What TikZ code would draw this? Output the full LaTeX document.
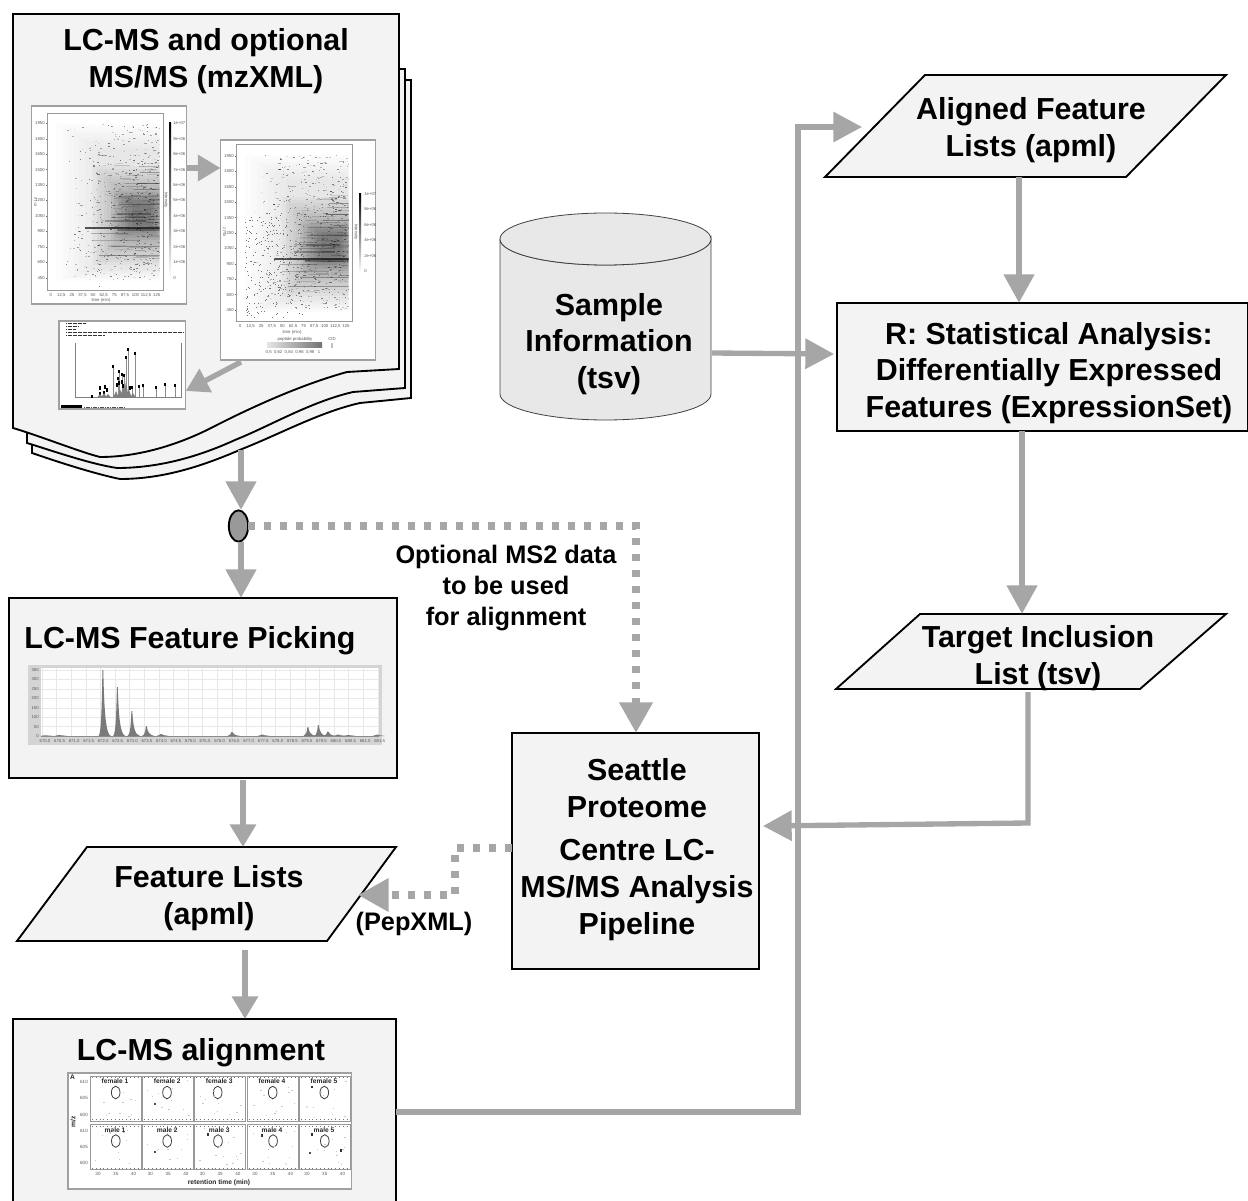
\documentclass[tikz,border=0pt]{standalone}
\usepackage{fontspec}
\setmainfont{Liberation Sans}
\usetikzlibrary{arrows.meta,shapes.geometric,calc}
\definecolor{boxfill}{HTML}{F3F3F3}
\definecolor{flow}{HTML}{A6A6A6}
\definecolor{frameg}{HTML}{A0A0A0}
\tikzset{
  shapebox/.style={draw=black,line width=1.4pt,fill=boxfill},
  boxnode/.style={rectangle,shapebox,inner sep=0pt,outer sep=0pt,anchor=north west},
  big/.style={font=\fontsize{22.8}{27.6}\selectfont\bfseries,align=center,text=black,inner sep=0pt},
  mid/.style={font=\fontsize{19}{23.25}\selectfont\bfseries,align=center,text=black,inner sep=0pt},
  flowline/.style={draw=flow,line width=5pt,-{Triangle[length=21.5pt,width=22pt]}},
  longflow/.style={draw=flow,line width=4pt,-{Triangle[length=21.5pt,width=22pt]}},
  dotline/.style={draw=flow,line width=5.4pt,dash pattern=on 5.4pt off 6.6pt,-{Triangle[length=23pt,width=24pt]}},
  thinflow/.style={draw=flow,line width=4pt,-{Triangle[length=17pt,width=19pt]}},
  imgbox/.style={draw=frameg,line width=.8pt,fill=white,outer sep=0pt,inner sep=0pt},
  tiny/.style={font=\fontsize{3.2}{3.6}\selectfont,text=black!65,inner sep=0pt},
  tinyb/.style={font=\fontsize{5}{5.4}\selectfont\bfseries,text=black!85,inner sep=0pt},
}
% heat map plot: left, top, width, height, number of specks, left-scatter count
\newcommand\heatplot[6]{%
  \begin{scope}[shift={(#1,#2)},x=#3*0.75pt,y=-#4*0.75pt]
    \draw[black!40,line width=.25pt] (0,0) rectangle (1,1);
    \begin{scope}
    \clip (.02,.02) rectangle (.97,.98);
    % soft haze built from nested layers
    \foreach \k in {0,...,7}{
      \fill[black,opacity=.012] ({.08+.05*\k},{.06+.02*\k}) rectangle (.97,{.95-.01*\k});}
    \foreach \k in {0,...,11}{
      \fill[black,opacity=.026] ({.4+.03*\k},{.3+.018*\k}) rectangle (.97,{.86-.018*\k});}
    \foreach \k in {0,...,6}{
      \fill[black,opacity=.035] ({.55+.03*\k},{.44+.012*\k}) rectangle ({.97-.012*\k},{.72-.014*\k});}
    % fine horizontal bands
    \foreach \b/\a/\c/\o/\t in {.645/.33/.97/.65/.009,.656/.6/.97/.3/.008,.47/.62/.97/.2/.006,.515/.62/.97/.28/.005,.565/.6/.9/.28/.012,.585/.55/.85/.22/.008,.605/.5/.85/.28/.012,.43/.75/.97/.28/.007,.395/.78/.97/.45/.006,.335/.8/.97/.3/.005,.3/.8/.95/.2/.004,.75/.55/.97/.3/.004,.8/.45/.97/.3/.005,.72/.4/.8/.2/.005,.68/.38/.7/.25/.004,.24/.45/.52/.25/.003}{
      \fill[black,opacity=\o] (\a,\b) rectangle (\c,\b+\t);}
    \foreach \i in {1,...,60}{
      \pgfmathsetmacro\pa{.5+.42*rnd}
      \pgfmathsetmacro\pb{.28+.55*rnd}
      \pgfmathsetmacro\po{.05+.15*rnd}
      \fill[black,opacity=\po] (\pa,\pb) rectangle ++(.05+.15*rnd,.0035);}
    \foreach \i in {1,...,#5}{
      \pgfmathsetmacro\px{.15+.82*pow(rnd,.6)}
      \pgfmathsetmacro\py{.06+.88*rnd}
      \pgfmathsetmacro\po{.08+.42*rnd}
      \fill[black,opacity=\po] (\px,\py) rectangle ++(.006+.014*rnd,.0035);}
    \foreach \i in {1,...,#6}{
      \pgfmathsetmacro\px{.08+.5*pow(rnd,1.3)}
      \pgfmathsetmacro\py{.38+.6*rnd}
      \fill[black!55] (\px,\py) rectangle ++(.007,.0045);}
    \end{scope}
  \end{scope}}
\begin{document}
\begin{tikzpicture}[x=0.75pt,y=-0.75pt,line join=miter]
\pgfmathsetseed{4217}
\useasboundingbox (0,0) rectangle (1248,1201);
\clip (0,0) rectangle (1248,1201);

% ---- stacked document
\draw[shapebox] (32,445) -- (32,80) -- (411,80) -- (411,398) -- (360,403)
  .. controls (320,412) and (280,434) .. (242,449) .. controls (205,465) and (165,479) .. (120,479)
  .. controls (95,474) and (55,461) .. (32,453) -- cycle;
\draw[shapebox] (27,436) -- (27,69) -- (405,69) -- (405,388) -- (353,392)
  .. controls (310,402) and (270,426) .. (235,440) .. controls (200,456) and (160,468) .. (117,468)
  .. controls (90,464) and (50,450) .. (27,443) -- cycle;
\draw[shapebox] (13,14) -- (399,14) -- (399,369) -- (347,372)
  .. controls (300,385) and (250,408) .. (213,427) .. controls (180,444) and (140,457) .. (100,457)
  .. controls (80,452) and (40,436) .. (13,428) -- cycle;
\node[big] (msTitle) at (206,43) {LC-MS and optional};
\node[big] (msTitleB) at (206,80) {MS/MS (mzXML)};
\coordinate (stackOut) at (241,450);

% first heat map
\node[rectangle,imgbox,minimum width=116pt,minimum height=148.5pt,anchor=north west] (mapA) at (31.5,106) {};
\heatplot{47}{113}{116}{177}{560}{0}
\foreach \v [count=\i from 0] in {1950,1800,1650,1500,1350,1200,1050,900,750,600,450}{
  \node[tiny,anchor=east] at (45,{123.3+\i*15.44}) {\v};
  \draw[black!60,line width=.2pt] (46,{123.3+\i*15.44}) -- (47,{123.3+\i*15.44});}
\foreach \v [count=\i from 0] in {0,{12,5},25,{37,5},50,{62,5},75,{87,5},100,{112,5},125}{
  \node[tiny,anchor=north] at ({50.7+\i*10.6},293) {\v};}
\node[tiny] at (101,300) {time (min)};
\node[tiny,rotate=90] at (35,202) {m / z};
\shade[top color=black,bottom color=white] (169,123) rectangle (171,278);
\foreach \v [count=\i from 0] in {1e+07,9e+06,8e+06,7e+06,6e+06,5e+06,4e+06,3e+06,2e+06,1e+06,0}{
  \node[tiny,anchor=west] at (173,{123.3+\i*15.44}) {\v};}
\node[tiny,rotate=-90] at (166,200) {Intensity};

% second heat map
\node[rectangle,imgbox,minimum width=116pt,minimum height=165pt,anchor=north west] (mapB) at (220.5,140) {};
\heatplot{236}{144}{116}{177}{560}{230}
\foreach \v [count=\i from 0] in {1950,1800,1650,1500,1350,1200,1050,900,750,600,450}{
  \node[tiny,anchor=east] at (234,{156+\i*15.4}) {\v};
  \draw[black!60,line width=.2pt] (235,{156+\i*15.4}) -- (236,{156+\i*15.4});}
\foreach \v [count=\i from 0] in {0,{12,5},25,{37,5},50,{62,5},75,{87,5},100,{112,5},125}{
  \node[tiny,anchor=north] at ({240+\i*10.6},324) {\v};}
\node[tiny] at (292,332) {time (min)};
\node[tiny,rotate=90] at (224,232) {m / z};
\shade[top color=black,bottom color=white] (359,194) rectangle (361,272);
\foreach \v [count=\i from 0] in {1e+07,8e+06,6e+06,4e+06,2e+06,0}{
  \node[tiny,anchor=west] at (364,{194+\i*15.5}) {\v};}
\node[tiny,rotate=-90] at (356,232) {Intensity};
\node[tiny] at (295,339) {peptide probability};
\node[tiny] at (332,339) {CID};
\shade[left color=black!10,right color=black!55] (267,343) rectangle (322,348);
\fill[black!25] (331,343) rectangle (333,348);
\node[tiny] at (293,352) {0,5\ \ 0,62\ \ 0,84\ \ 0,96\ \ 0,98\ \ \ 1};

% spectrum
\node[rectangle,imgbox,minimum width=95pt,minimum height=66pt,anchor=north west] (spec) at (59,321) {};
\foreach \yy/\xe in {323/86,326/78,329/76,332.5/184,335/105}{
  \draw[black!80,line width=.55pt,dash pattern=on .9pt off .35pt] (66,\yy) -- (\xe,\yy);}
\draw[black!50,line width=.3pt] (75,343) -- (75,397) -- (181,397) -- (181,343);
\foreach \x/\t in {92/397,100/394,104/393,113/367,118/379,119/372,122/375,124/376,126/358,128/350,135/354,132/388,139/387,143/386,156/388,165/385,175/386}{
  \draw[black!45,line width=.3pt] (\x,397) -- (\x,\t);
  \fill[black] (\x-.8,\t-1.6) rectangle (\x+.8,\t+.8);}
\foreach \x/\hh in {100/3,104/4,108/3,116/6,120/8,123/12,126/16,129/7,133/4}{
  \fill[black!50] (\x-2.5,397) -- (\x,397-\hh) -- (\x+2.5,397) -- cycle;}
\foreach \x/\t in {100/388,105/387,107/390,117/385,119/383,122/382,123/386,130/388}{
  \fill[black] (\x-1.2,\t-2) rectangle (\x+1.2,\t+2);}
\fill[black] (61,405.5) rectangle (82,408);
\draw[black!70,line width=.55pt,dash pattern=on .9pt off .4pt] (84,407) -- (124,407);

% arrows inside the document
\draw[thinflow] (mapA.east |- 0,168) -- (mapB.west |- 0,168);
\coordinate (mapOut) at (241,362);
\draw[thinflow] (mapOut) -- (spec.east |- 0,391);

% ---- branching junction
\node[ellipse,draw=black,line width=1.4pt,fill=black!40,minimum width=14.5pt,minimum height=23.5pt,inner sep=0pt,outer sep=0pt] (junction) at (238.5,526) {};
\draw[flowline] (stackOut) -- (241,510);

% ---- feature picking
\node[boxnode,minimum width=291pt,minimum height=135pt] (pick) at (9,598) {};
\node[big] (pickT) at (190,641) {LC-MS Feature Picking};
\fill[black!17] (28,665) rectangle (382,745);
\fill[white] (41,668) rectangle (379,736);
\foreach \x in {0,...,23}{\draw[black!9,line width=.2pt] ({42+\x*14.6},668) -- ({42+\x*14.6},736);}
\foreach \v [count=\i from 0] in {0,50,100,150,200,250,300,350}{
  \draw[black!9,line width=.2pt] (41,{736-\i*9.45}) -- (379,{736-\i*9.45});
  \node[tiny,anchor=east] at (39,{736-\i*9.45}) {\v};}
\foreach \v [count=\i from 0] in {670.0,670.5,671.0,671.5,672.0,672.5,673.0,673.5,674.0,674.5,675.0,675.5,676.0,676.5,677.0,677.5,678.0,678.5,679.0,679.5,680.0,680.5,681.0,681.5}{
  \node[tiny,anchor=center] at ({45+\i*14.55},741) {\v};}
\foreach \x/\hh in {103/66,117.5/49,132/25,146.5/10,161/2,232/4,262/1.5,308/9,318.5/11,328/4.5,338/1.5,348/1,377/1.5,59/1,45/.6}{
  \fill[black!52] (\x-4.5,736) .. controls (\x-2,735) and (\x-1.2,736-\hh*.4) .. (\x-.6,736-\hh) -- (\x+.3,736-\hh)
    .. controls (\x+1.2,736-\hh*.35) and (\x+3,735) .. (\x+8,736) -- cycle;}
\draw[black!45,line width=.3pt] (41,736) -- (379,736);

% ---- feature lists
\coordinate (flA) at (87,847); \coordinate (flB) at (396,847);
\coordinate (flC) at (327,941); \coordinate (flD) at (17,941);
\draw[shapebox] (flA) -- (flB) -- (flC) -- (flD) -- cycle;
\node[big] (flT) at (209,898) {Feature Lists\\(apml)};
\coordinate (flIn) at (243,847);
\coordinate (flOut) at (245,950);
\coordinate (flSide) at (358,895);
\draw[thinflow] ($(pick.south west)+(234,2)$) -- (flIn);

% ---- alignment
\node[boxnode,minimum width=287.25pt,minimum height=142pt] (align) at (13,1019) {};
\node[big] (alignT) at (201,1053) {LC-MS alignment};
\draw[thinflow] (flOut) -- (align.north -| flOut);
\node[rectangle,imgbox,line width=1.1pt,minimum width=212.5pt,minimum height=87pt,anchor=north west] (alignMap) at (68,1073) {};
\node[tinyb] at (72.5,1077) {A};
\foreach \px/\ex/\lab [count=\n from 1] in {90/115.7/1,142.3/167/2,194.3/217.7/3,247/272.7/4,299/324.3/5}{
  \draw[black!40,line width=.55pt,fill=white] (\px,1076) rectangle ++(51,45);
  \draw[black!40,line width=.55pt,fill=white] (\px,1124.5) rectangle ++(51,45);
  \draw[black!55,line width=.7pt,dash pattern=on .25pt off 2.6pt] (\px+2,1119.5) -- ++(48,0);
  \draw[black!55,line width=.7pt,dash pattern=on .25pt off 2.6pt] (\px+2,1168) -- ++(48,0);
  \draw[black!55,line width=.7pt,dash pattern=on .25pt off 2.6pt] (\px+2,1077.5) -- ++(48,0);
  \draw[black!55,line width=.7pt,dash pattern=on .25pt off 2.6pt] (\px+2,1126) -- ++(48,0);
  \node[tinyb] at (\px+25,1081.5) {female \lab};
  \node[tinyb] at (\px+25,1130) {male \lab};
  \draw[black!75,line width=.6pt] (\ex,1092.5) ellipse (4.3 and 6.3);
  \draw[black!75,line width=.6pt] ({\ex+\n*.1},1141) ellipse (4.3 and 6.3);
  \foreach \t in {30,35,40}{
    \node[tiny,font=\fontsize{3.4}{4}\selectfont] at ({\px+8+(\t-30)*3.55},1173.5) {\t};}
  \foreach \i in {1,...,12}{
    \pgfmathsetmacro\qx{\px+4+43*rnd}\pgfmathsetmacro\qy{1080+38*rnd}
    \fill[black!22] (\qx,\qy) rectangle ++(1.4,.7);
    \pgfmathsetmacro\qx{\px+4+43*rnd}\pgfmathsetmacro\qy{1128+38*rnd}
    \fill[black!22] (\qx,\qy) rectangle ++(1.4,.7);}
}
\foreach \yy/\v in {1082/610,1098/605,1114.5/600,1131/610,1147/605,1163/600}{
  \node[tiny,font=\fontsize{3.4}{4}\selectfont] at (84,\yy) {\v};}
\node[tinyb,rotate=90] at (73,1122) {m/z};
\node[tinyb] at (219,1182.5) {retention time (min)};
\fill[black!80] (207,1133) rectangle ++(1.6,3); \fill[black!80] (261,1134) rectangle ++(1.6,2.5);
\fill[black!80] (311,1133) rectangle ++(1.6,3); \fill[black!80] (311,1086) rectangle ++(1.5,2);
\fill[black!70] (154,1103) rectangle ++(1.8,1.5); \fill[black!70] (154,1151) rectangle ++(1.8,1.5);
\fill[black!70] (309,1152) rectangle ++(1.8,1.5); \fill[black!80] (340,1149) rectangle ++(1.6,3);

% ---- sample information (database)
\draw[draw=black!75,line width=.6pt,fill=black!9] (500,239) -- (500,394)
  arc[start angle=180,end angle=0,x radius=105.5,y radius=26] -- (711,239)
  arc[start angle=0,end angle=180,x radius=105.5,y radius=26];
\draw[draw=black!75,line width=.6pt,fill=black!9] (605.5,239) ellipse (105.5 and 26);
\node[big] (sample) at (609,344) {Sample\\Information\\(tsv)};
\coordinate (sampleOut) at (712,353);

% ---- aligned feature lists
\coordinate (afA) at (925,75); \coordinate (afB) at (1226,75);
\coordinate (afC) at (1126,177); \coordinate (afD) at (825,177);
\draw[shapebox] (afA) -- (afB) -- (afC) -- (afD) -- cycle;
\node[big] (afT) at (1031,130) {Aligned Feature\\Lists (apml)};
\coordinate (afIn) at (862,127);
\coordinate (afOut) at (1019,177);

% ---- R analysis
\node[boxnode,minimum width=308.25pt,minimum height=96pt] (stats) at (837,303) {};
\node[big] (statsT) at (1049,373) {R: Statistical Analysis:\\Differentially Expressed\\Features (ExpressionSet)};
\draw[flowline] (afOut) -- (stats.north -| afOut);
\draw[longflow] (sampleOut) -- ($(stats.west |- 0,354)+(-3,0)$);

% ---- target list
\coordinate (tlA) at (920,614); \coordinate (tlB) at (1226,614);
\coordinate (tlC) at (1140,689); \coordinate (tlD) at (836,689);
\draw[shapebox] (tlA) -- (tlB) -- (tlC) -- (tlD) -- cycle;
\node[big] (tlT) at (1038,658) {Target Inclusion\\List (tsv)};
\coordinate (tlIn) at (1022,614);
\coordinate (tlOut) at (1028,692);
\draw[flowline] (stats.south -| tlIn) -- (tlIn);

% ---- Seattle pipeline
\node[boxnode,minimum width=185.25pt,minimum height=177pt] (spc) at (512,733) {};
\node[big] (spcA) at (637,788) {Seattle\\Proteome};
\node[big] (spcB) at (637,890) {Centre LC-\\MS/MS Analysis\\Pipeline};

% ---- connectors between main nodes
\draw[flowline] (junction.south -| stackOut) -- (pick.north -| stackOut);
\coordinate (dotA) at (636,526);
\draw[dotline] (junction.east) -- (dotA) -- (spc.north -| dotA);
\node[mid] (optional) at (506,588) {Optional MS2 data\\to be used\\for alignment};
\coordinate (tlTurn) at (1028,823);
\draw[longflow] (tlOut) -- (tlTurn) -- ($(spc.east |- 0,826)+(4,0)$);
\coordinate (dotB) at (455,848);
\coordinate (dotC) at (455,895);
\draw[dotline] (spc.west |- dotB) -- (dotB) -- (dotC) -- (flSide);
\node[mid] (pepxml) at (414,924) {(PepXML)};
\coordinate (alTurnA) at (798,1112);
\coordinate (alTurnB) at (798,127);
\draw[longflow] (align.east |- alTurnA) -- (alTurnA) -- (alTurnB) -- (afIn);
\end{tikzpicture}
\end{document}
